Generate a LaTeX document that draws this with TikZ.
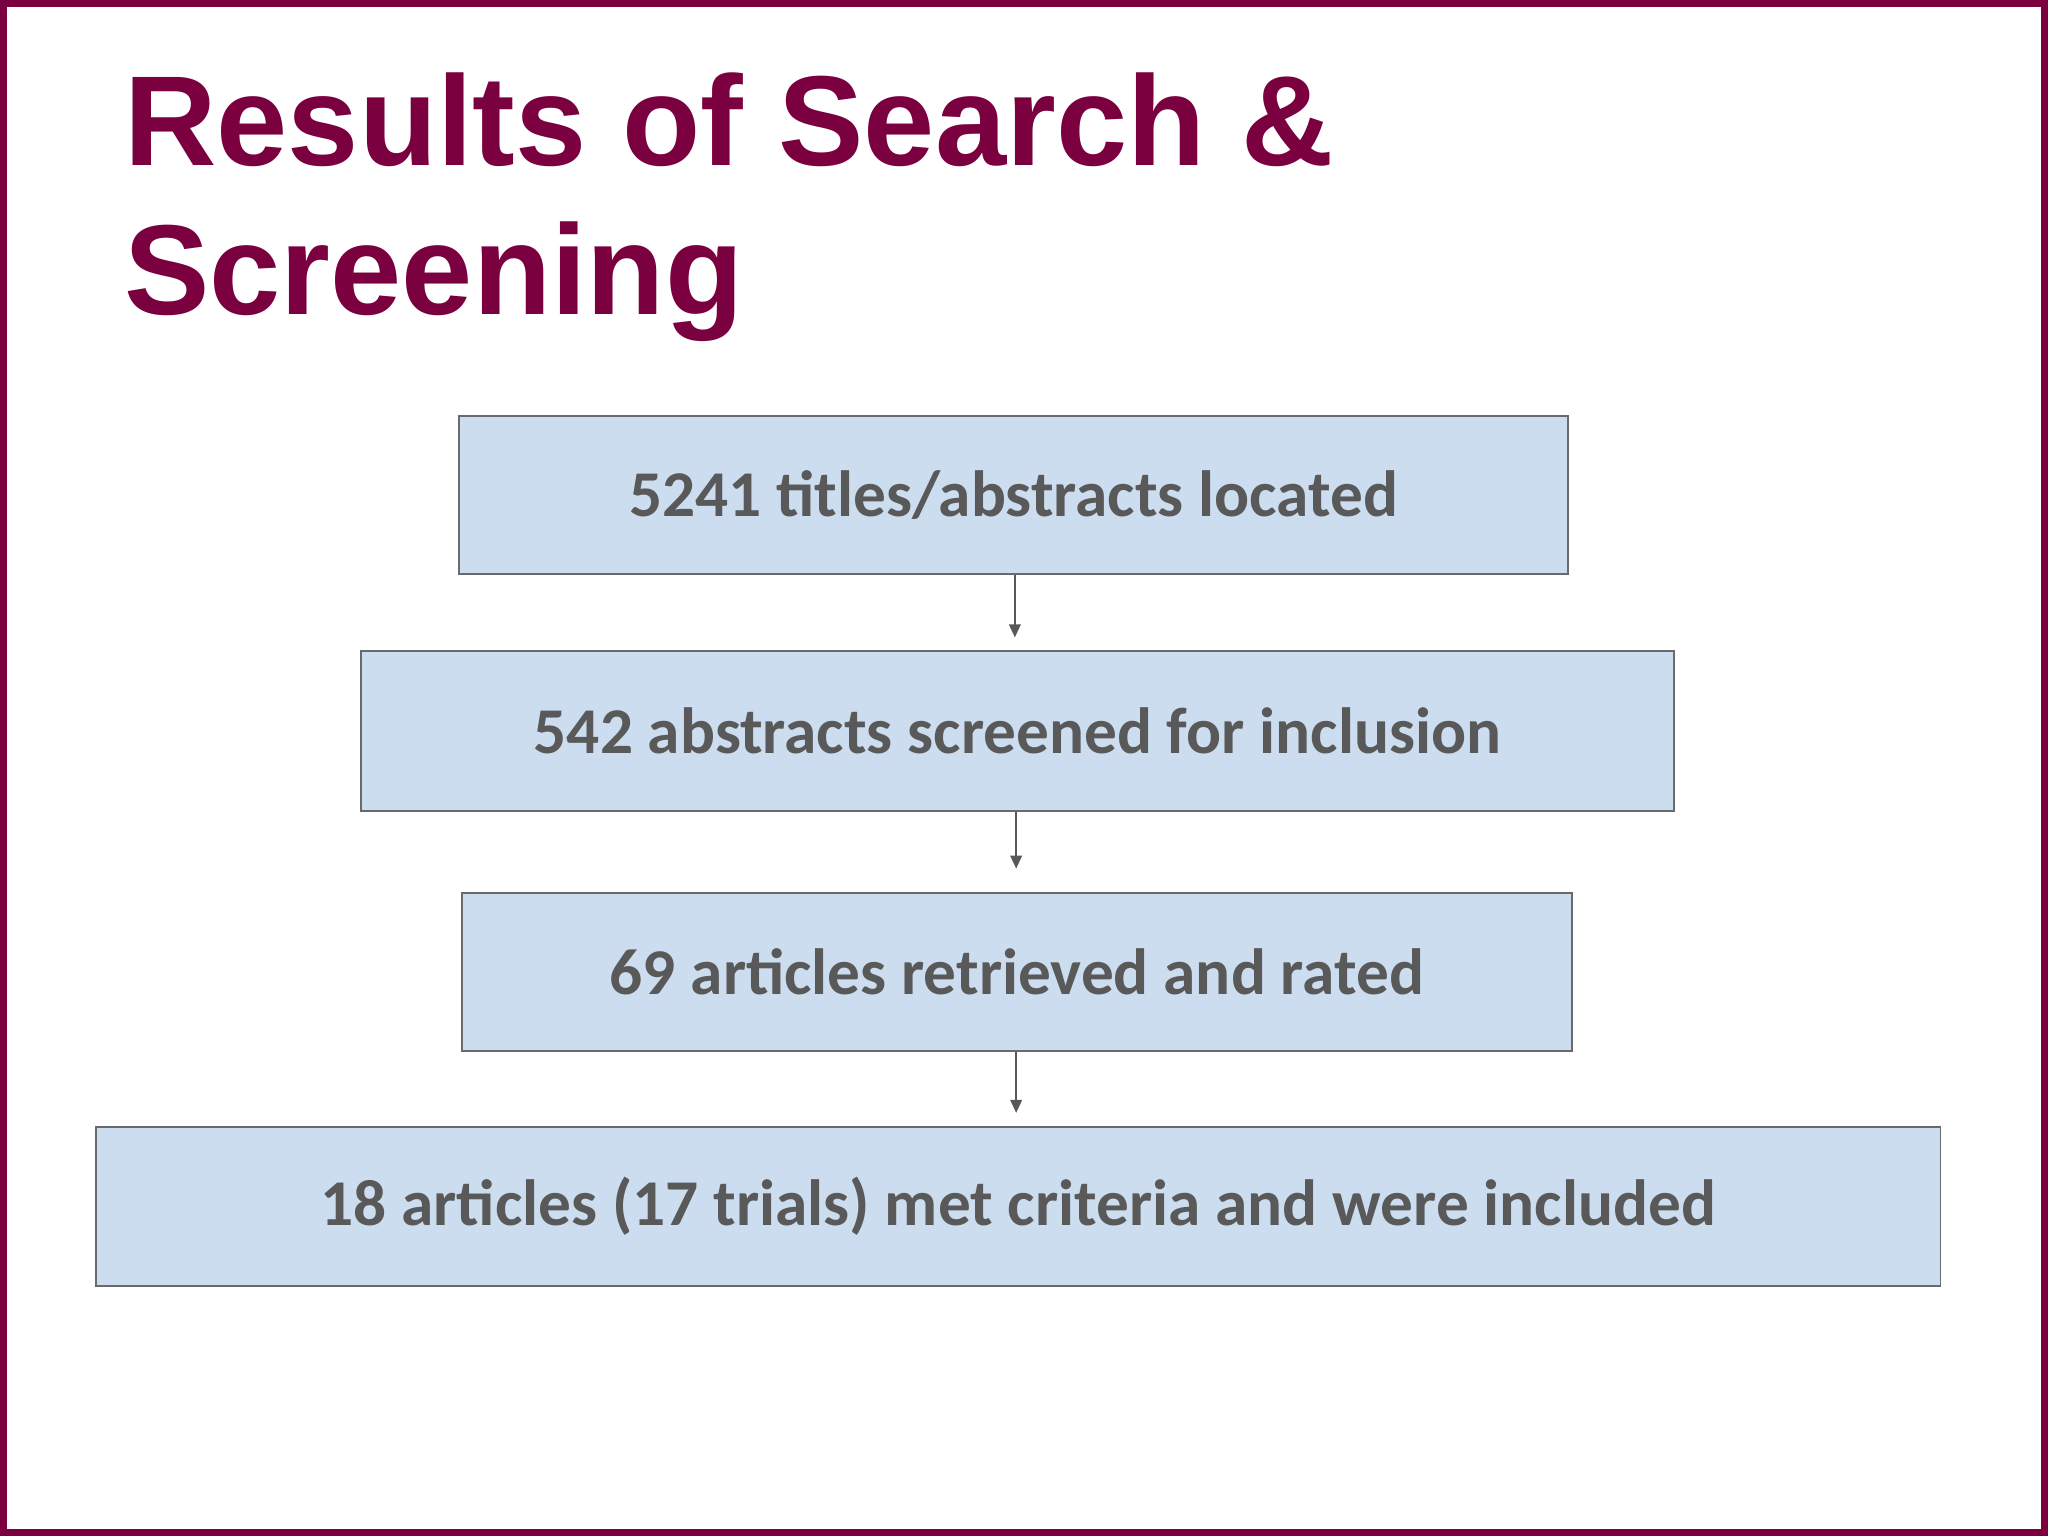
\documentclass[tikz,border=0pt]{standalone}
\usepackage{fontspec}
\setmainfont{Liberation Sans}
\newfontfamily\boxfont{Carlito}
\usetikzlibrary{arrows.meta}
\definecolor{maroon}{HTML}{7B0040}
\definecolor{boxfill}{HTML}{CCDDF0}
\definecolor{txtgrey}{HTML}{595959}
\begin{document}
\begin{tikzpicture}[x=1pt,y=-1pt,
  stagebox/.style={draw=txtgrey!90,line width=1.3pt,fill=boxfill,anchor=north west,inner sep=0pt,
    font=\boxfont\bfseries\fontsize{50}{60}\selectfont,text=txtgrey},
  flowarrow/.style={draw=txtgrey,line width=1.3pt,-{Triangle[length=10pt,width=9pt]}}]
\useasboundingbox (0,0) rectangle (1568,1176);
\draw[maroon,line width=5pt] (2.5,2.5) rectangle (1565.5,1173.5);
\node[anchor=base west,text=maroon,font=\bfseries\fontsize{98}{114}\selectfont,inner sep=0pt] (t1) at (95,127) {Results of Search \&};
\node[anchor=base west,text=maroon,font=\bfseries\fontsize{98}{114}\selectfont,inner sep=0pt] (t2) at (95,241) {Screening};
\node[stagebox,minimum width=849pt,minimum height=121pt] (b1) at (351,318) {5241 titles/abstracts located};
\node[stagebox,minimum width=1005pt,minimum height=122pt] (b2) at (276,498) {542 abstracts screened for inclusion};
\node[stagebox,minimum width=850pt,minimum height=121pt] (b3) at (353,683) {69 articles retrieved and rated};
\node[stagebox,minimum width=1412pt,minimum height=122pt] (b4) at (73,862) {18 articles (17 trials) met criteria and were included};
\coordinate (e1) at (777,488);
\coordinate (e2) at (778,665);
\coordinate (e3) at (778,852);
\draw[flowarrow] (b1.south -| e1) -- (e1);
\draw[flowarrow] (b2.south -| e2) -- (e2);
\draw[flowarrow] (b3.south -| e3) -- (e3);
\end{tikzpicture}
\end{document}
